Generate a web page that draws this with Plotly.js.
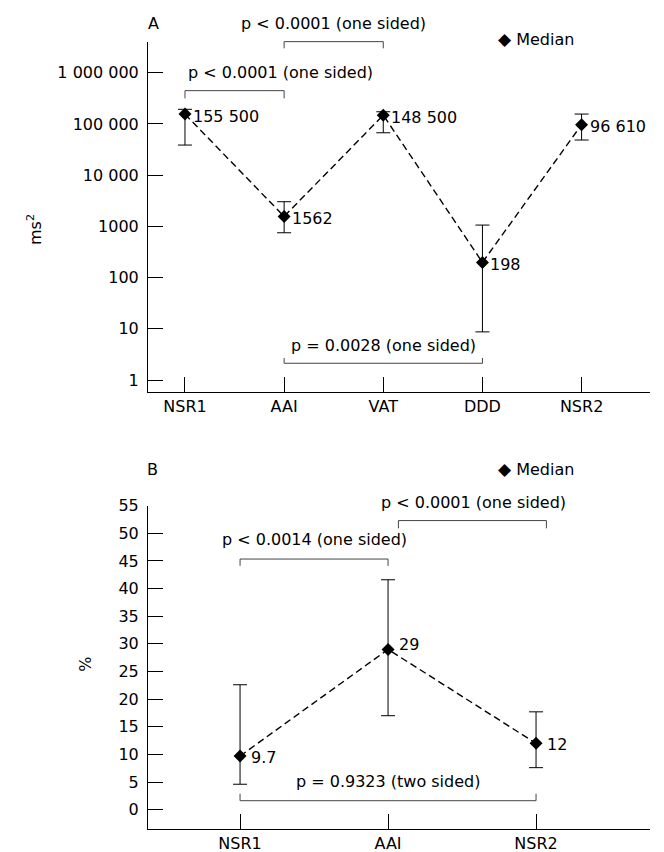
<!DOCTYPE html>
<html><head><meta charset="utf-8">
<script src="https://cdn.plot.ly/plotly-3.0.1.min.js"></script>
<style>body{margin:0;background:#fff}</style>
</head><body><div id="chart" style="width:664px;height:852px"></div>
<script>
// Panel A (ms^2, log scale)
const catsA = ['NSR1', 'AAI', 'VAT', 'DDD', 'NSR2'];
const medA = [155500, 1562, 148500, 198, 96610];
const hiA = [193000, 3030, 173000, 1060, 156000];
const loA = [38700, 750, 67300, 8.7, 48500];
const labA = ['155 500', '1562', '148 500', '198', '96 610'];
const tickValsA = [1, 10, 100, 1000, 10000, 100000, 1000000];
const tickTextA = ['1', '10', '100', '1000', '10 000', '100 000', '1 000 000'];

// Panel B (%)
const catsB = ['NSR1', 'AAI', 'NSR2'];
const medB = [9.7, 29, 12];
const hiB = [22.6, 41.6, 17.7];
const loB = [4.6, 17.0, 7.6];
const labB = ['9.7', '29', '12'];
const tickValsB = [0, 5, 10, 15, 20, 25, 30, 35, 40, 45, 50, 55];

// p-value brackets: [from index, to index, text]
const bracketsA = [
  [0, 1, 'p < 0.0001 (one sided)'],
  [1, 2, 'p < 0.0001 (one sided)'],
  [1, 3, 'p = 0.0028 (one sided)']
];
const bracketsB = [
  [0, 1, 'p < 0.0014 (one sided)'],
  [1.07, 2.07, 'p < 0.0001 (one sided)'],
  [0, 2, 'p = 0.9323 (two sided)']
];

const FONT = 'DejaVu Sans';
const BR = '#444';

function errTrace(cats, med, hi, lo, xa, ya) {
  return {
    x: cats, y: med, xaxis: xa, yaxis: ya,
    type: 'scatter', mode: 'lines+markers',
    line: {color: '#000', width: 1.4, dash: '7px,4px'},
    marker: {symbol: 'diamond', size: 10, color: '#000'},
    error_y: {type: 'data', symmetric: false,
      array: hi.map((h, i) => h - med[i]),
      arrayminus: lo.map((l, i) => med[i] - l),
      color: '#000', thickness: 1, width: 7},
    showlegend: false, hoverinfo: 'skip'
  };
}

const traces = [
  errTrace(catsA, medA, hiA, loA, 'x', 'y'),
  errTrace(catsB, medB, hiB, loB, 'x2', 'y2')
];

const shapes = [];
const annotations = [];

function bracket(xr, yr, a, b, yLine, yEnd, text, xText, yText) {
  shapes.push({type: 'line', xref: xr, yref: yr, x0: a, x1: b, y0: yLine, y1: yLine, line: {color: BR, width: 1}});
  shapes.push({type: 'line', xref: xr, yref: yr, x0: a, x1: a, y0: yLine, y1: yEnd, line: {color: BR, width: 1}});
  shapes.push({type: 'line', xref: xr, yref: yr, x0: b, x1: b, y0: yLine, y1: yEnd, line: {color: BR, width: 1}});
  annotations.push({xref: xr, yref: yr, x: xText, y: yText, text: text, showarrow: false,
    xanchor: 'center', yanchor: 'middle', font: {family: FONT, size: 16, color: '#000'}});
}

// Panel A brackets
bracket('x', 'y domain', bracketsA[0][0], bracketsA[0][1], 0.861, 0.839, bracketsA[0][2], 0.96, 0.912);
bracket('x', 'y domain', bracketsA[1][0], bracketsA[1][1], 1.001, 0.982, bracketsA[1][2], 1.5, 1.054);
bracket('x', 'y domain', bracketsA[2][0], bracketsA[2][1], 0.082, 0.097, bracketsA[2][2], 2.0, 0.134);
// Panel B brackets
bracket('x2', 'y2 domain', bracketsB[0][0], bracketsB[0][1], 0.835, 0.814, bracketsB[0][2], 0.5, 0.894);
bracket('x2', 'y2 domain', bracketsB[1][0], bracketsB[1][1], 0.954, 0.930, bracketsB[1][2], 1.574, 1.010);
bracket('x2', 'y2 domain', bracketsB[2][0], bracketsB[2][1], 0.0875, 0.109, bracketsB[2][2], 1.0, 0.147);

// value labels
medA.forEach((v, i) => annotations.push({xref: 'x', yref: 'y', x: i, y: Math.log10(v), text: labA[i],
  showarrow: false, xanchor: 'left', yanchor: 'middle', xshift: 6, yshift: -2,
  font: {family: FONT, size: 16, color: '#000'}}));
medB.forEach((v, i) => annotations.push({xref: 'x2', yref: 'y2', x: i, y: v, text: labB[i],
  showarrow: false, xanchor: 'left', yanchor: 'middle', xshift: 9, yshift: i === 1 ? 5 : -1,
  font: {family: FONT, size: 16, color: '#000'}}));

// panel letters, legends, y titles
const txt = (o) => Object.assign({showarrow: false, font: {family: FONT, size: 16, color: '#000'}}, o);
annotations.push(txt({xref: 'paper', yref: 'y domain', x: 0.01, y: 1.054, text: 'A', xanchor: 'center', yanchor: 'middle'}));
annotations.push(txt({xref: 'paper', yref: 'y2 domain', x: 0.008, y: 1.113, text: 'B', xanchor: 'center', yanchor: 'middle'}));
const legTxt = '<span style="font-size:17px">◆</span> Median';
annotations.push(txt({xref: 'paper', yref: 'y domain', x: 0.694, y: 1.009, text: legTxt, xanchor: 'left', yanchor: 'middle'}));
annotations.push(txt({xref: 'paper', yref: 'y2 domain', x: 0.694, y: 1.112, text: legTxt, xanchor: 'left', yanchor: 'middle'}));
annotations.push(txt({xref: 'paper', yref: 'y domain', x: -0.225, y: 0.463, text: 'ms<sup>2</sup>', textangle: -90, xanchor: 'center', yanchor: 'middle'}));
annotations.push(txt({xref: 'paper', yref: 'y2 domain', x: -0.1235, y: 0.508, text: '%', textangle: -90, xanchor: 'center', yanchor: 'middle'}));

const axCommon = {
  showline: true, linecolor: '#000', linewidth: 1, ticks: 'inside', ticklen: 15,
  tickcolor: '#000', tickwidth: 1, showgrid: false, zeroline: false,
  tickfont: {family: FONT, size: 16, color: '#000'}, fixedrange: true
};

const layout = {
  width: 664, height: 852,
  margin: {l: 148, r: 14, t: 42, b: 23},
  paper_bgcolor: '#fff', plot_bgcolor: '#fff',
  font: {family: FONT, size: 16, color: '#000'},
  showlegend: false,
  xaxis: Object.assign({}, axCommon, {domain: [0, 1], anchor: 'y', type: 'category', range: [-0.373, 4.69]}),
  yaxis: Object.assign({}, axCommon, {domain: [0.5553, 1], anchor: 'x', type: 'log', range: [-0.234, 6.60],
    tickvals: tickValsA, ticktext: tickTextA, ticklabelstandoff: 5}),
  xaxis2: Object.assign({}, axCommon, {domain: [0, 1], anchor: 'y2', type: 'category', range: [-0.622, 2.77]}),
  yaxis2: Object.assign({}, axCommon, {domain: [0, 0.4108], anchor: 'x2', range: [-3.5, 55],
    tickvals: tickValsB, ticklabelstandoff: 5}),
  shapes: shapes,
  annotations: annotations
};

Plotly.newPlot('chart', traces, layout, {displayModeBar: false, staticPlot: true});
</script></body></html>
